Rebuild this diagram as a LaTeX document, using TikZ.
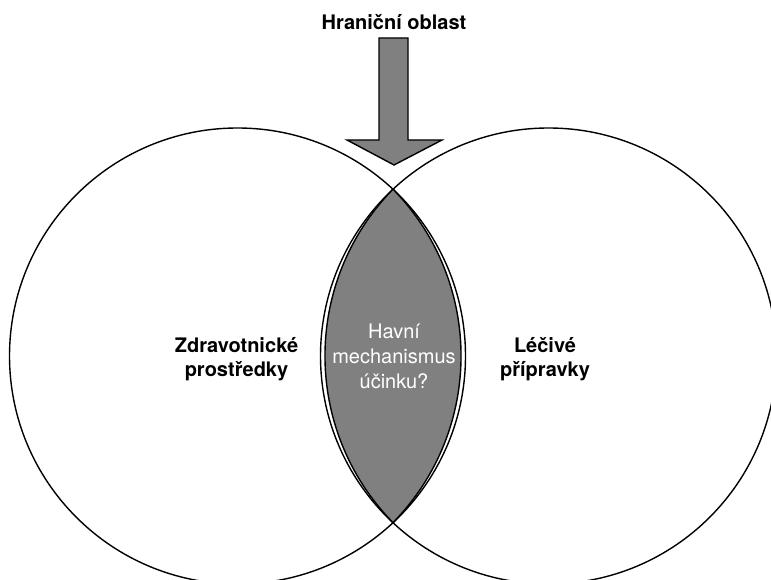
\documentclass[tikz,border=0pt]{standalone}
\usepackage{fontspec}
\setmainfont{TeX Gyre Heros}
\definecolor{lensgray}{HTML}{808080}
\begin{document}
\begin{tikzpicture}[x=1pt,y=1pt,
  outline/.style={draw=black, line width=1.4pt},
  setbox/.style={circle, outline, minimum size=456pt, inner sep=0pt},
  boldlabel/.style={font=\fontsize{20}{24}\selectfont\bfseries, align=center, inner sep=0pt},
  lenslabel/.style={font=\fontsize{20}{25}\selectfont, text=white, align=center, inner sep=0pt}]
\useasboundingbox (0,0) rectangle (771,580);
\clip (0,0) rectangle (771,580);
% sets
\node[setbox] (left)  at (237.5,224) {};
\node[setbox] (right) at (548.5,224) {};
% overlap region
\coordinate (lenstop) at (393,390.8);
\draw[outline, fill=lensgray] (lenstop)
  arc[start angle=135.6, end angle=224.4, radius=238.3]
  arc[start angle=-44.4, end angle=44.4, radius=238.3] -- cycle;
% block arrow
\draw[outline, fill=lensgray, line join=miter]
  (379,542) -- (408,542) -- (408,440) -- (442,440) -- (394,415)
  -- (347,440) -- (379,440) -- cycle;
% texts
\node[boldlabel, anchor=base] (title) at (394,550) {Hraniční oblast};
\node[boldlabel, anchor=base] (mdlabel) at (236.5,203) {Zdravotnické\\prostředky};
\node[boldlabel, anchor=base] (drlabel) at (545,203) {Léčivé\\přípravky};
\node[lenslabel, anchor=base] (qlabel) at (394,191) {Havní\\mechanismus\\účinku?};
\end{tikzpicture}
\end{document}
